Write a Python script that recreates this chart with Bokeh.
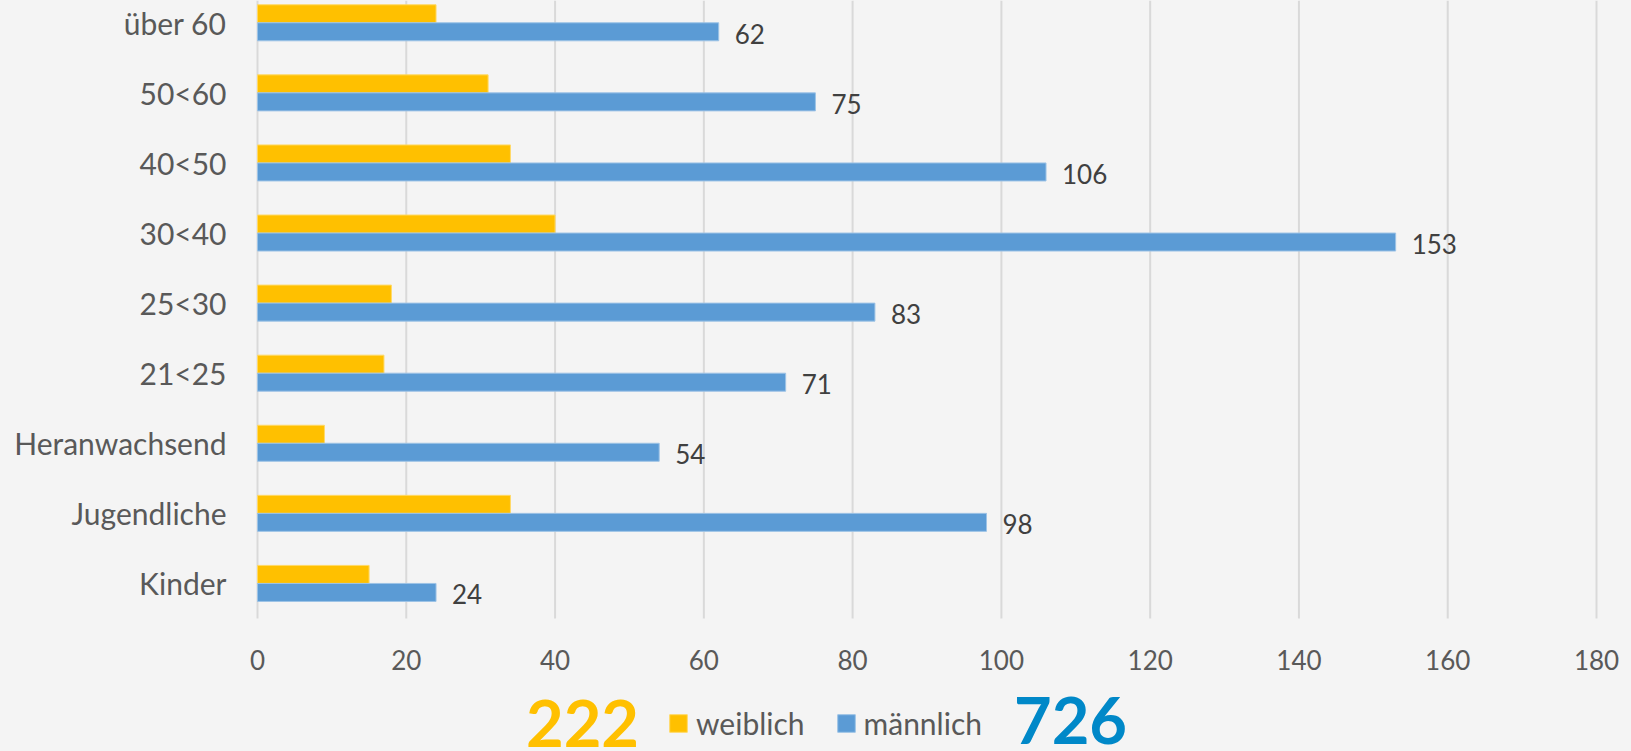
import numpy as np
from bokeh.plotting import figure
from bokeh.models import Legend, LegendItem, ColumnDataSource
from bokeh.core.properties import value
from bokeh.embed import file_html
from bokeh.resources import INLINE

categories = ["Kinder", "Jugendliche", "Heranwachsend", "21<25", "25<30",
              "30<40", "40<50", "50<60", "über 60"]
weiblich = [15, 34, 9, 17, 18, 40, 34, 31, 24]
maennlich = [24, 98, 54, 71, 83, 153, 106, 75, 62]
x_ticks = [0, 20, 40, 60, 80, 100, 120, 140, 160, 180]
total_w = 222
total_m = 726

BG = "#f4f4f4"
YEL = "#ffc000"
BLU = "#5b9bd5"
BIG_BLUE = "#0088c8"
GREY = "#595959"
FONT = "Lato"

# frame covers the whole picture; axis 0..180 spans 1339 px starting 257 px from the left
PX_PER_UNIT = 1339 / 180
X_START = -257 / PX_PER_UNIT
X_END = (1631 - 257) / PX_PER_UNIT
Y_TOP = 8.318
Y_BOT = -2.398
Y_AXIS = -0.5

idx = np.arange(len(categories))
bar_h = 0.257
src = ColumnDataSource(dict(
    yw=idx + bar_h / 2, ym=idx - bar_h / 2, yc=idx, x0=[0] * len(idx),
    w=weiblich, m=maennlich, cat=categories,
    mlab=[str(v) for v in maennlich],
))
tick_src = ColumnDataSource(dict(
    x=x_ticks, lab=[str(t) for t in x_ticks],
    y0=[Y_AXIS] * len(x_ticks), y1=[Y_TOP] * len(x_ticks),
))

p = figure(width=1631, height=751,
           min_border_left=0, min_border_right=0, min_border_top=0,
           min_border_bottom=0,
           x_range=(X_START, X_END), y_range=(Y_BOT, Y_TOP),
           output_backend="svg", toolbar_location=None,
           background_fill_color=BG, border_fill_color=BG, outline_line_color=None)
p.axis.visible = False
p.grid.grid_line_color = None

# vertical grid lines
p.segment(x0="x", x1="x", y0="y0", y1="y1", source=tick_src,
          line_color="#d9d9d9", line_width=2)

rw = p.hbar(y="yw", right="w", left=0, height=bar_h, source=src,
            fill_color=YEL, line_color="#ffd966", line_width=1)
rm = p.hbar(y="ym", right="m", left=0, height=bar_h, source=src,
            fill_color=BLU, line_color="#9dc3e6", line_width=1)

# value labels
p.text(x="m", y="ym", text="mlab", source=src, x_offset=16, y_offset=2,
       text_baseline="middle", text_align="left",
       text_font=value(FONT), text_font_size="26px", text_color="#404040")

# category labels
p.text(x="x0", y="yc", text="cat", source=src, x_offset=-31,
       text_baseline="middle", text_align="right",
       text_font=value(FONT), text_font_size="30px", text_color=GREY)

# x tick labels
p.text(x="x", y="y0", text="lab", source=tick_src, y_offset=42,
       text_baseline="middle", text_align="center",
       text_font=value(FONT), text_font_size="26px", text_color=GREY)

legend = Legend(items=[LegendItem(label="weiblich", renderers=[rw]),
                       LegendItem(label="männlich", renderers=[rm])],
                orientation="horizontal", location=(667, 10),
                glyph_width=22, glyph_height=22, label_standoff=7, spacing=30,
                padding=0, margin=0, border_line_color=None,
                background_fill_alpha=0,
                label_text_font=FONT, label_text_font_size="30px",
                label_text_color=GREY)
p.add_layout(legend)

# totals
tot_src = ColumnDataSource(dict(
    x=[43.69, 109.29], y=[Y_AXIS, Y_AXIS],
    off=[105, 102], t=[str(total_w), str(total_m)], c=[YEL, BIG_BLUE],
))
p.text(x="x", y="y", text="t", y_offset="off", source=tot_src,
       text_align="center", text_baseline="middle", text_color="c",
       text_font=value(FONT), text_font_style="bold", text_font_size="65px")

html = file_html(p, INLINE)
html = html.replace("<body>", '<body style="background-color:#f4f4f4;">')
open("out.html", "w").write(html)
